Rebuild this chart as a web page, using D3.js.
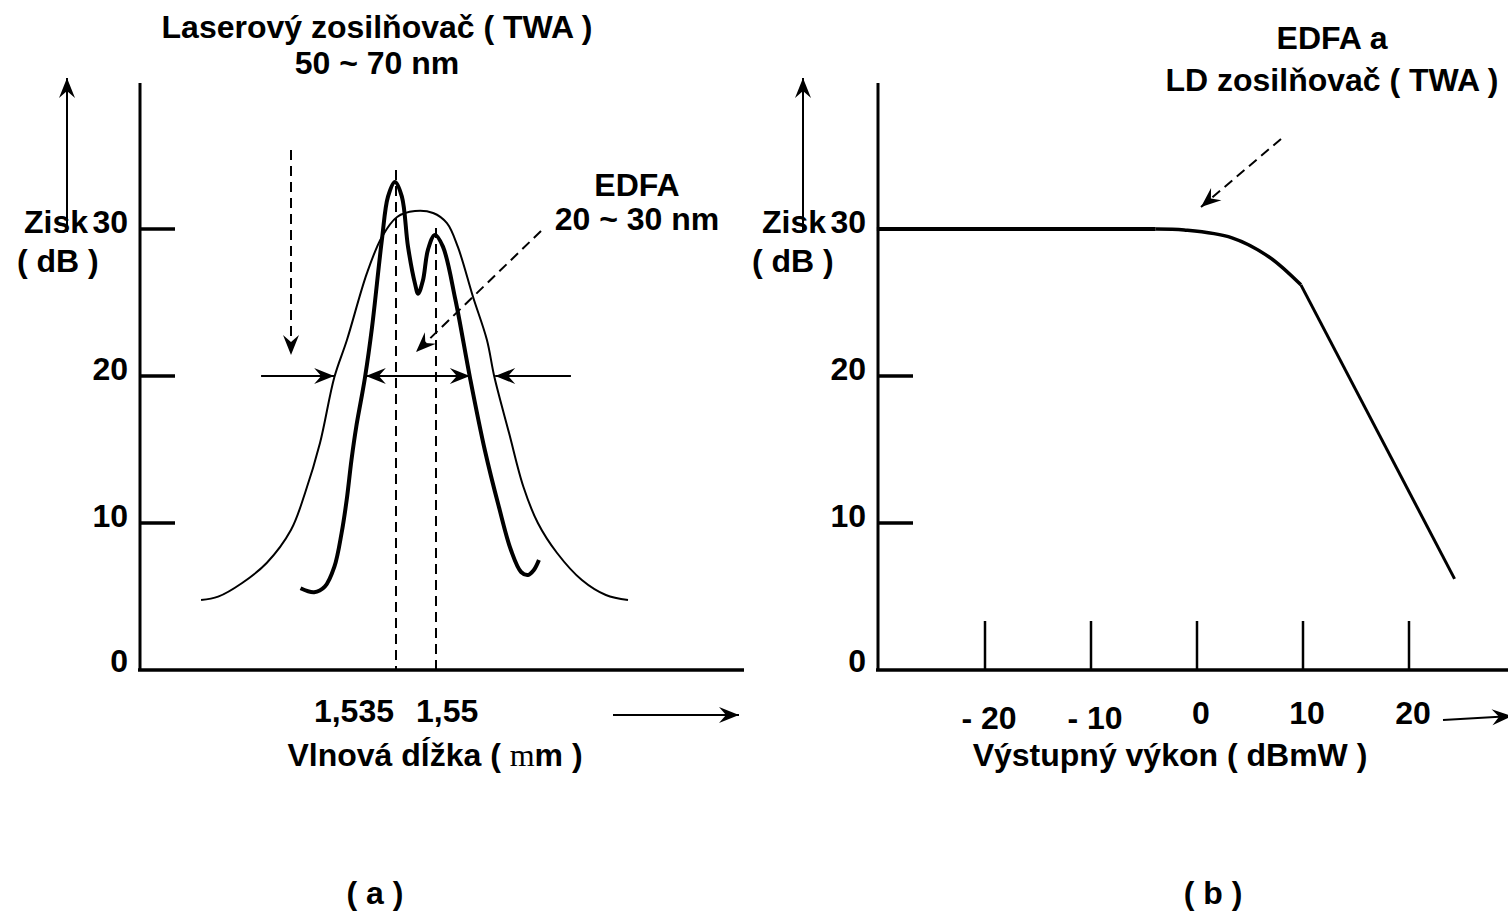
<!DOCTYPE html>
<html>
<head>
<meta charset="utf-8">
<script src="https://cdnjs.cloudflare.com/ajax/libs/d3/7.8.5/d3.min.js"></script>
<style>
	body { margin: 0; background: #fff; }
	text { font-family: "Liberation Sans", Arial, sans-serif; font-weight: bold; font-size: 32px; fill: #000; }
</style>
</head>
<body>
<svg id="chart" width="1508" height="918"></svg>
<script>
// gain ticks (dB), shared by both panels
var gainTicks = [0, 10, 20, 30];

// (a) gain spectra: [wavelength in um, gain in dB]
var wavelengthTicks = [1.535, 1.55];
var laserTWA = [
	[1.4619, 4.76], [1.4683, 4.99], [1.4773, 5.92], [1.4865, 7.28], [1.4956, 9.52],
	[1.5009, 12.04], [1.5065, 15.44], [1.5119, 19.93], [1.5166, 22.45], [1.5241, 27.0],
	[1.5297, 29.46], [1.5354, 30.82], [1.5421, 31.22], [1.5489, 31.09], [1.5541, 30.4],
	[1.5582, 28.78], [1.5639, 25.37], [1.5691, 22.45], [1.5719, 19.93], [1.5774, 16.12],
	[1.5828, 12.45], [1.5882, 10.0], [1.5954, 7.96], [1.6047, 6.12], [1.6137, 5.1],
	[1.622, 4.76]
];
var edfa = [
	[1.4992, 5.56], [1.5043, 5.29], [1.5083, 5.67], [1.5119, 7.03], [1.5146, 9.32],
	[1.5165, 11.56], [1.5183, 14.29], [1.5201, 16.55], [1.5219, 18.37], [1.5234, 19.93],
	[1.526, 23.3], [1.5297, 29.25], [1.532, 32.2], [1.5346, 33.2], [1.5372, 32.2],
	[1.5395, 28.8], [1.5421, 26.3], [1.5433, 25.6], [1.5451, 26.5], [1.547, 28.6],
	[1.5496, 29.6], [1.5526, 28.8], [1.5573, 25.17], [1.5627, 19.93], [1.5683, 14.97],
	[1.5736, 11.09], [1.5781, 8.16], [1.5819, 6.67], [1.5845, 6.46], [1.5867, 6.8],
	[1.5886, 7.48]
];
// bandwidth markers at 20 dB: [from, to] in um
var laserWidthArrows = [[1.4844, 1.5118], [1.6006, 1.5722]];
var edfaWidthArrow = [1.5237, 1.5627];

// (b) gain saturation: [output power in dBmW, gain in dB]
var powerTicks = [-20, -10, 0, 10, 20];
var powerTickLabels = ["- 20", "- 10", "0", "10", "20"];
var satFlat = [[-30.2, 30], [-3.9, 30]];
var satKnee = [[-3.9, 30], [-1.2, 29.93], [3.3, 29.4], [6.8, 28.1], [9.8, 26.2]];
var satRolloff = [[9.8, 26.2], [24.3, 6.2]];

var svg = d3.select("#chart");

// arrowhead used by every annotation arrow
var defs = svg.append("defs");
defs.append("marker")
	.attr("id", "head")
	.attr("viewBox", "-21 -9 23 18")
	.attr("markerWidth", 23)
	.attr("markerHeight", 18)
	.attr("markerUnits", "userSpaceOnUse")
	.attr("refX", 0)
	.attr("refY", 0)
	.attr("orient", "auto-start-reverse")
	.append("path")
	.attr("d", "M0,0 L-20,-8 L-13,0 L-20,8 Z")
	.attr("fill", "#000");

var yGain = d3.scaleLinear().domain([0, 30]).range([670, 229]);

function arrow(g, x1, y1, x2, y2, w, dash, both) {
	var l = g.append("line")
		.attr("x1", x1).attr("y1", y1).attr("x2", x2).attr("y2", y2)
		.attr("stroke", "#000").attr("stroke-width", w)
		.attr("marker-end", "url(#head)");
	if (dash) l.attr("stroke-dasharray", dash);
	if (both) l.attr("marker-start", "url(#head)");
	return l;
}

function gainAxis(g, x0, arrowX, labels) {
	g.append("line").attr("x1", x0).attr("x2", x0).attr("y1", 83).attr("y2", 671)
		.attr("stroke", "#000").attr("stroke-width", 3);
	g.selectAll(".ytick").data(gainTicks.filter(function(d) { return d > 0; }))
		.enter().append("line")
		.attr("x1", x0).attr("x2", x0 + 35)
		.attr("y1", function(d) { return yGain(d); })
		.attr("y2", function(d) { return yGain(d); })
		.attr("stroke", "#000").attr("stroke-width", 3.5);
	g.selectAll(".ylab").data(gainTicks)
		.enter().append("text")
		.attr("x", x0 - 12)
		.attr("y", function(d) { return yGain(d) + 4 - (d === 0 ? 2 : 0); })
		.attr("text-anchor", "end")
		.text(function(d) { return d; });
	// vertical arrow + axis caption
	arrow(g, arrowX, 232, arrowX, 78, 2);
	g.append("text").attr("x", labels[0]).attr("y", 233).text("Zisk");
	g.append("text").attr("x", labels[1]).attr("y", 272).text("( dB )");
}

// ---------- panel (a) ----------
var a = svg.append("g");
var xA = d3.scaleLinear().domain([1.535, 1.55]).range([396, 436]);
var lineA = d3.line()
	.x(function(d) { return xA(d[0]); })
	.y(function(d) { return yGain(d[1]); })
	.curve(d3.curveCatmullRom.alpha(0.5));

gainAxis(a, 140, 67, [24, 17]);
a.append("line").attr("x1", 138).attr("x2", 744).attr("y1", 670).attr("y2", 670)
	.attr("stroke", "#000").attr("stroke-width", 3.5);

// wavelength markers
a.selectAll(".wl").data(wavelengthTicks).enter().append("line")
	.attr("x1", function(d) { return xA(d); })
	.attr("x2", function(d) { return xA(d); })
	.attr("y1", function(d, i) { return i === 0 ? 170 : 228; })
	.attr("y2", 669)
	.attr("stroke", "#000").attr("stroke-width", 2)
	.attr("stroke-dasharray", "10,6");
a.append("text").attr("x", xA(1.535) - 2).attr("y", 722).attr("text-anchor", "end").text("1,535");
a.append("text").attr("x", xA(1.55) - 20).attr("y", 722).text("1,55");

a.append("path").datum(laserTWA).attr("d", lineA)
	.attr("fill", "none").attr("stroke", "#000").attr("stroke-width", 2);
a.append("path").datum(edfa).attr("d", lineA)
	.attr("fill", "none").attr("stroke", "#000").attr("stroke-width", 4);

// bandwidth arrows at 20 dB
laserWidthArrows.forEach(function(p) {
	arrow(a, xA(p[0]), yGain(20), xA(p[1]), yGain(20), 2);
});
arrow(a, xA(edfaWidthArrow[0]), yGain(20), xA(edfaWidthArrow[1]), yGain(20), 2, null, true);

// dashed pointers
arrow(a, 291, 150, 291, 355, 2, "10,6");
arrow(a, 541, 231, 416, 352, 2, "10,6");

a.append("text").attr("x", 377).attr("y", 38).attr("text-anchor", "middle").text("Laserový zosilňovač ( TWA )");
a.append("text").attr("x", 377).attr("y", 74).attr("text-anchor", "middle").text("50 ~ 70 nm");
a.append("text").attr("x", 637).attr("y", 196).attr("text-anchor", "middle").text("EDFA");
a.append("text").attr("x", 637).attr("y", 230).attr("text-anchor", "middle").text("20 ~ 30 nm");

arrow(a, 613, 715, 739, 715, 2);
var tA = a.append("text").attr("x", 435).attr("y", 766).attr("text-anchor", "middle");
tA.append("tspan").text("Vlnová dĺžka  ( ");
tA.append("tspan").style("font-family", "'Liberation Serif', serif").style("font-weight", "normal").text("m");
tA.append("tspan").text("m )");
a.append("text").attr("x", 375).attr("y", 904).attr("text-anchor", "middle").text("( a )");

// ---------- panel (b) ----------
var b = svg.append("g");
var xB = d3.scaleLinear().domain([-20, 20]).range([985, 1409]);
var lineB = d3.line()
	.x(function(d) { return xB(d[0]); })
	.y(function(d) { return yGain(d[1]); });

gainAxis(b, 878, 803, [762, 752]);
b.append("line").attr("x1", 876).attr("x2", 1508).attr("y1", 670).attr("y2", 670)
	.attr("stroke", "#000").attr("stroke-width", 3.5);

b.selectAll(".xtick").data(powerTicks).enter().append("line")
	.attr("x1", function(d) { return xB(d); })
	.attr("x2", function(d) { return xB(d); })
	.attr("y1", 621).attr("y2", 669)
	.attr("stroke", "#000").attr("stroke-width", 2.5);
b.selectAll(".xlab").data(powerTicks).enter().append("text")
	.attr("x", function(d) { return xB(d) + 4; })
	.attr("y", function(d, i) { return i < 2 ? 729 : 724; })
	.attr("text-anchor", "middle")
	.text(function(d, i) { return powerTickLabels[i]; });

b.append("path").datum(satFlat).attr("d", lineB)
	.attr("fill", "none").attr("stroke", "#000").attr("stroke-width", 4);
b.append("path").datum(satKnee).attr("d", lineB.curve(d3.curveCatmullRom.alpha(0.5)))
	.attr("fill", "none").attr("stroke", "#000").attr("stroke-width", 3.5);
b.append("path").datum(satRolloff).attr("d", lineB.curve(d3.curveLinear))
	.attr("fill", "none").attr("stroke", "#000").attr("stroke-width", 3);

arrow(b, 1281, 139, 1201, 207, 2, "10,6");
arrow(b, 1443, 720, 1512, 716, 2);

b.append("text").attr("x", 1332).attr("y", 49).attr("text-anchor", "middle").text("EDFA a");
b.append("text").attr("x", 1332).attr("y", 91).attr("text-anchor", "middle").text("LD zosilňovač ( TWA )");
b.append("text").attr("x", 1170).attr("y", 766).attr("text-anchor", "middle").text("Výstupný výkon  ( dBmW )");
b.append("text").attr("x", 1213).attr("y", 904).attr("text-anchor", "middle").text("( b )");
</script>
</body>
</html>
